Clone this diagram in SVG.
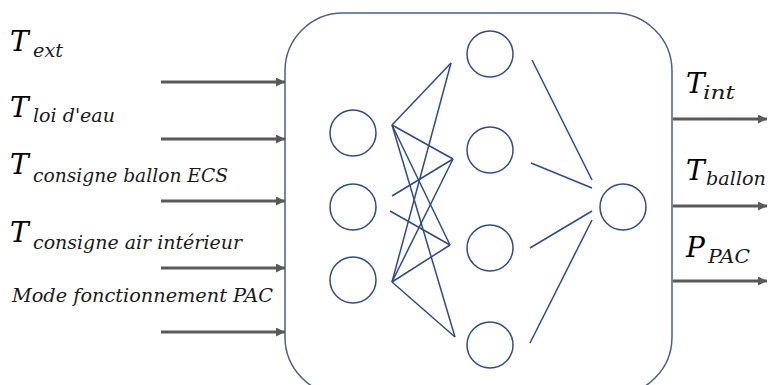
<svg xmlns="http://www.w3.org/2000/svg" width="768" height="385" viewBox="0 0 768 385">
<defs>
<marker id="ah" viewBox="0 0 10 10" refX="10" refY="5" markerWidth="3" markerHeight="3" orient="auto" markerUnits="strokeWidth">
<path d="M0,0 L10,5 L0,10 z" fill="#595959"/>
</marker>
<style>
.big{font-family:"DejaVu Serif",serif;font-style:italic;font-size:28px;fill:#000}
.sub{font-family:"DejaVu Serif",serif;font-style:italic;font-size:18.5px;fill:#1a1a1a}
.node{fill:#fff;stroke:#2F4B85;stroke-width:1.5}
.ln{stroke:#2F4B85;stroke-width:1.5;fill:none}
.arr{stroke:#595959;stroke-width:3;fill:none;marker-end:url(#ah)}
</style>
</defs>
<rect id="box" x="285" y="13" width="387" height="382" rx="58" ry="58" fill="#fff" stroke="#4A5F8C" stroke-width="1.5"/>
<g id="connectors">
<line class="ln" x1="392" y1="125" x2="451" y2="63"/>
<line class="ln" x1="392" y1="125" x2="453" y2="159"/>
<line class="ln" x1="392" y1="125" x2="450" y2="245"/>
<line class="ln" x1="392" y1="125" x2="455" y2="337"/>
<line class="ln" x1="392" y1="282" x2="451" y2="63"/>
<line class="ln" x1="392" y1="282" x2="453" y2="159"/>
<line class="ln" x1="392" y1="282" x2="450" y2="245"/>
<line class="ln" x1="392" y1="282" x2="455" y2="337"/>
<line class="ln" x1="392" y1="196" x2="453" y2="159"/>
<line class="ln" x1="390" y1="211" x2="450" y2="245"/>
<line class="ln" x1="532" y1="60" x2="592" y2="180"/>
<line class="ln" x1="531" y1="163" x2="592" y2="188"/>
<line class="ln" x1="530" y1="248" x2="592" y2="211"/>
<line class="ln" x1="530" y1="343" x2="592" y2="220"/>
<line class="arr" x1="161" y1="82" x2="285" y2="82"/>
<line class="arr" x1="161" y1="139" x2="285" y2="139"/>
<line class="arr" x1="161" y1="201" x2="285" y2="201"/>
<line class="arr" x1="161" y1="268" x2="285" y2="268"/>
<line class="arr" x1="161" y1="332" x2="285" y2="332"/>
<line class="arr" x1="673" y1="119" x2="767" y2="119"/>
<line class="arr" x1="673" y1="206" x2="767" y2="206"/>
<line class="arr" x1="673" y1="281" x2="767" y2="281"/>
</g>
<g id="in1"><circle class="node" cx="353" cy="133" r="23"/></g>
<g id="in2"><circle class="node" cx="353" cy="207" r="23"/></g>
<g id="in3"><circle class="node" cx="353" cy="280" r="23"/></g>
<g id="h1"><circle class="node" cx="490" cy="54" r="23"/></g>
<g id="h2"><circle class="node" cx="490" cy="150" r="23"/></g>
<g id="h3"><circle class="node" cx="490" cy="248" r="23"/></g>
<g id="h4"><circle class="node" cx="490" cy="345" r="23"/></g>
<g id="out"><circle class="node" cx="623" cy="207" r="23"/></g>
<g id="labels">
<text class="big" x="10" y="51">T</text><text class="sub" x="33" y="57" textLength="30" lengthAdjust="spacingAndGlyphs">ext</text>
<text class="big" x="10" y="117">T</text><text class="sub" x="33" y="122" textLength="82" lengthAdjust="spacingAndGlyphs">loi d'eau</text>
<text class="big" x="10" y="174">T</text><text class="sub" x="33" y="182" textLength="195" lengthAdjust="spacingAndGlyphs">consigne ballon ECS</text>
<text class="big" x="10" y="242">T</text><text class="sub" x="33" y="249" textLength="209" lengthAdjust="spacingAndGlyphs">consigne air intérieur</text>
<text class="sub" x="12" y="302" textLength="261" lengthAdjust="spacingAndGlyphs">Mode fonctionnement PAC</text>
<text class="big" x="686" y="93">T</text><text class="sub" x="703" y="99" textLength="32" lengthAdjust="spacingAndGlyphs">int</text>
<text class="big" x="686" y="180">T</text><text class="sub" x="706" y="185" textLength="60" lengthAdjust="spacingAndGlyphs">ballon</text>
<text class="big" x="686" y="257">P</text><text class="sub" x="708" y="263" textLength="42" lengthAdjust="spacingAndGlyphs">PAC</text>
</g>
</svg>
